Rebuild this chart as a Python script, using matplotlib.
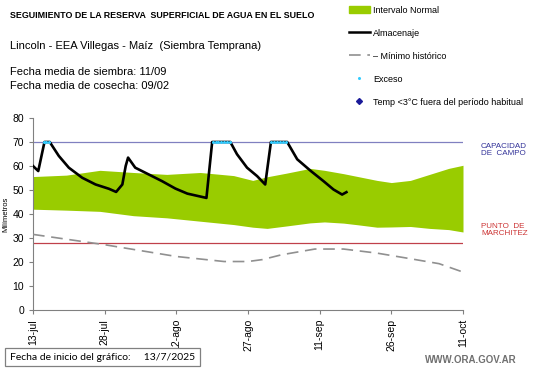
import matplotlib
matplotlib.use('Agg')
import matplotlib.pyplot as plt
from matplotlib.lines import Line2D
from matplotlib.patches import Patch

plt.rcParams['font.family'] = ['Liberation Sans', 'DejaVu Sans']

# dias desde 13-jul
tick_dias = [0, 15, 30, 45, 60, 75, 90]
tick_labels = ['13-jul', '28-jul', '12-ago', '27-ago', '11-sep', '26-sep', '11-oct']

# intervalo normal
normal_dias = [0, 7, 14, 21, 28, 35, 42, 46, 49, 53, 58, 61, 65, 68, 72, 75, 79, 83, 87, 90]
normal_sup = [55.6, 56.2, 58.2, 57.3, 56.5, 57.3, 56.0, 54.0, 55.5, 57.0, 59.0, 58.2, 56.8, 55.6, 54.0, 53.1, 54.0, 56.5, 59.0, 60.3]
normal_inf = [42.0, 41.6, 41.1, 39.3, 38.4, 37.0, 35.6, 34.5, 34.0, 35.0, 36.3, 36.7, 36.2, 35.5, 34.5, 34.6, 34.8, 34.0, 33.5, 32.5]

# almacenaje
alm_dias = [0, 1.1, 2.4, 3.5, 5.4, 7.5, 10.3, 13.1, 15.9, 17.4, 18.7, 19.4, 19.9, 21.4, 24.2, 27.0, 29.8,
            32.3, 36.3, 37.5, 41.3, 42.7, 44.8, 46.9, 48.6, 49.8, 53.2, 55.3, 58.1, 60.8, 62.9, 64.7, 65.6]
alm_vals = [60.0, 57.9, 70.0, 70.0, 64.2, 59.3, 55.1, 52.3, 50.5, 49.2, 52.3, 60.0, 63.5, 59.3, 56.5, 53.7, 50.6,
            48.5, 46.7, 70.0, 70.0, 64.9, 59.3, 55.8, 52.3, 70.0, 70.0, 62.8, 58.0, 53.7, 50.2, 48.1, 49.1]

# minimo historico
min_dias = [0, 15, 30, 40, 45, 48, 52, 59, 65, 72, 78, 85, 90]
min_vals = [31.5, 27.2, 22.3, 20.2, 20.2, 21.0, 23.0, 25.4, 25.4, 23.7, 21.7, 19.3, 15.8]

# exceso
exceso_dias = [2.2, 2.8, 3.4, 37.6, 38.2, 38.8, 39.4, 40.0, 40.6, 41.2, 49.9, 50.5, 51.1, 51.7, 52.3, 52.9]
exceso_vals = [70] * len(exceso_dias)

capacidad_campo = 70
punto_marchitez = 28

fig = plt.figure(figsize=(5.41, 3.68), dpi=100)
ax = fig.add_axes([33 / 541, 1 - 310 / 368, 430 / 541, 192 / 368])

verde = '#99cc00'
ax.fill_between(normal_dias, normal_inf, normal_sup, color=verde, lw=0, zorder=1)
ax.axhline(capacidad_campo, color='#8080c0', lw=0.9, zorder=2)
ax.axhline(punto_marchitez, color='#c0404a', lw=0.9, zorder=2)
ax.plot(min_dias, min_vals, color='#909090', lw=1.2, dashes=(7, 4), zorder=3)
ax.plot(alm_dias, alm_vals, color='black', lw=1.9, zorder=4)
ax.plot(exceso_dias, exceso_vals, ls='none', marker='o', ms=2.2, mew=0, color='#33ccff', zorder=5)

ax.set_xlim(0, 90)
ax.set_ylim(0, 80)
ax.set_xticks(tick_dias)
ax.set_xticklabels(tick_labels, rotation=90, fontsize=7.5)
ax.set_yticks(range(0, 81, 10))
ax.tick_params(axis='y', labelsize=7.5, length=3, color='#808080')
ax.tick_params(axis='x', length=3, color='#808080')
for s in ['top', 'right']:
    ax.spines[s].set_visible(False)
for s in ['left', 'bottom']:
    ax.spines[s].set_color('#808080')
ax.set_ylabel('Milímetros', fontsize=5.5, labelpad=2)

# textos
fig.text(10 / 541, 1 - 15 / 368, 'SEGUIMIENTO DE LA RESERVA  SUPERFICIAL DE AGUA EN EL SUELO',
         fontsize=6.4, fontweight='bold', va='center')
fig.text(10 / 541, 1 - 46 / 368, 'Lincoln - EEA Villegas - Maíz  (Siembra Temprana)', fontsize=8, va='center')
fig.text(10 / 541, 1 - 72 / 368, 'Fecha media de siembra: 11/09', fontsize=8, va='center')
fig.text(10 / 541, 1 - 86 / 368, 'Fecha media de cosecha: 09/02', fontsize=8, va='center')

fig.text(481 / 541, 1 - 150 / 368, 'CAPACIDAD\nDE  CAMPO', fontsize=5.8, color='#333399',
         va='center', linespacing=1.1)
fig.text(481 / 541, 1 - 230 / 368, 'PUNTO  DE\nMARCHITEZ', fontsize=5.8, color='#cc3333',
         va='center', linespacing=1.1)

fig.text(10 / 541, 1 - 357 / 368, 'Fecha de inicio del gráfico:     13/7/2025', fontsize=7.5,
         family='Lato', va='center',
         bbox=dict(boxstyle='square,pad=0.45', fc='white', ec='#808080', lw=0.9))
fig.text(517 / 541, 1 - 360 / 368, 'WWW.ORA.GOV.AR', fontsize=7, color='#707070', fontweight='bold',
         ha='right', va='center')

handles = [
    Patch(color=verde, label='Intervalo Normal'),
    Line2D([], [], color='black', lw=1.8, label='Almacenaje'),
    Line2D([], [], color='#909090', lw=1.2, dashes=(7, 4), label='– Mínimo histórico'),
    Line2D([], [], ls='none', marker='o', ms=2.2, mew=0, color='#33ccff', label='Exceso'),
    Line2D([], [], ls='none', marker='D', ms=3, color='#1a1a99', label='Temp <3°C fuera del período habitual'),
]
fig.legend(handles=handles, loc='upper left', bbox_to_anchor=(345 / 541, 1 - 2 / 368), frameon=False,
           fontsize=6.5, labelspacing=1.55, handlelength=2.4, handletextpad=0.3, borderaxespad=0)

fig.savefig('out.png', dpi=100)
